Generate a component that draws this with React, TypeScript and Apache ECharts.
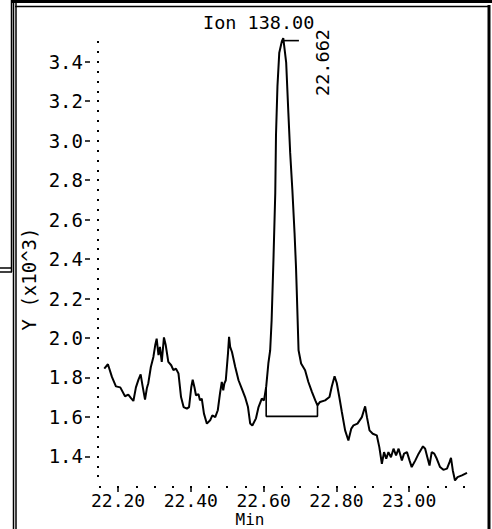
import React, { useEffect, useRef } from "react";
import * as echarts from "echarts";

const times = [
  22.162, 22.172, 22.183, 22.194, 22.206, 22.219, 22.228, 22.236, 22.242, 22.249,
  22.256, 22.262, 22.267, 22.274, 22.279, 22.283, 22.290, 22.297, 22.302, 22.306,
  22.311, 22.315, 22.320, 22.326, 22.331, 22.338, 22.346, 22.352, 22.359, 22.366,
  22.373, 22.380, 22.389, 22.395, 22.401, 22.405, 22.410, 22.414, 22.421, 22.425,
  22.430, 22.436, 22.444, 22.453, 22.459, 22.467, 22.474, 22.480, 22.485, 22.489,
  22.492, 22.496, 22.502, 22.505, 22.508, 22.513, 22.522, 22.531, 22.540, 22.549,
  22.557, 22.563, 22.569, 22.579, 22.586, 22.595, 22.601, 22.607, 22.613, 22.618,
  22.622, 22.627, 22.632, 22.634, 22.638, 22.643, 22.650, 22.654, 22.662, 22.668,
  22.673, 22.679, 22.685, 22.689, 22.691, 22.696, 22.703, 22.714, 22.723, 22.733,
  22.742, 22.748, 22.755, 22.769, 22.781, 22.787, 22.795, 22.801, 22.808, 22.815,
  22.824, 22.833, 22.841, 22.847, 22.858, 22.870, 22.879, 22.884, 22.891, 22.900,
  22.911, 22.918, 22.925, 22.931, 22.937, 22.943, 22.950, 22.957, 22.964, 22.971,
  22.980, 22.986, 22.994, 23.001, 23.007, 23.017, 23.026, 23.038, 23.044, 23.050,
  23.056, 23.062, 23.069, 23.076, 23.085, 23.094, 23.104, 23.111, 23.115, 23.120,
  23.126, 23.133, 23.145, 23.159,
];

const values = [
  1.845, 1.867, 1.803, 1.755, 1.750, 1.705, 1.713, 1.694, 1.681, 1.750,
  1.789, 1.816, 1.760, 1.688, 1.745, 1.771, 1.853, 1.904, 1.963, 1.997,
  1.913, 1.955, 1.879, 2.003, 1.963, 1.879, 1.862, 1.837, 1.845, 1.820,
  1.701, 1.650, 1.642, 1.650, 1.749, 1.789, 1.749, 1.710, 1.715, 1.684,
  1.693, 1.617, 1.566, 1.583, 1.608, 1.599, 1.634, 1.718, 1.777, 1.735,
  1.769, 1.786, 1.921, 2.006, 1.955, 1.929, 1.853, 1.786, 1.744, 1.701,
  1.650, 1.567, 1.557, 1.593, 1.650, 1.693, 1.684, 1.752, 1.871, 1.938,
  2.090, 2.395, 2.735, 3.029, 3.275, 3.446, 3.503, 3.520, 3.395, 3.141,
  2.938, 2.750, 2.532, 2.359, 2.243, 1.938, 1.871, 1.837, 1.777, 1.726,
  1.684, 1.659, 1.676, 1.684, 1.701, 1.752, 1.806, 1.772, 1.701, 1.625,
  1.532, 1.481, 1.541, 1.557, 1.566, 1.599, 1.654, 1.599, 1.532, 1.515,
  1.507, 1.447, 1.363, 1.422, 1.388, 1.422, 1.396, 1.439, 1.405, 1.439,
  1.380, 1.414, 1.422, 1.380, 1.346, 1.380, 1.414, 1.451, 1.439, 1.396,
  1.354, 1.422, 1.414, 1.388, 1.346, 1.332, 1.338, 1.371, 1.393, 1.329,
  1.278, 1.295, 1.304, 1.317,
];

// integration baseline under the peak
const baseTimes = [22.607, 22.607, 22.748, 22.748];
const baseValues = [1.752, 1.603, 1.603, 1.659];

// apex marker
const apexTimes = [22.655, 22.697];
const apexValues = [3.507, 3.507];

const xMajorTicks = [22.2, 22.4, 22.6, 22.8, 23.0];
const yMajorTicks = [1.4, 1.6, 1.8, 2.0, 2.2, 2.4, 2.6, 2.8, 3.0, 3.2, 3.4];

const titleText = "Ion 138.00";
const apexLabel = "22.662";
const xName = "Min";
const yName = "Y (x10^3)";

const X_MIN = 22.142;
const X_MAX = 23.17;
const Y_MIN = 1.24;
const Y_MAX = 3.5;

const FONT = "DejaVu Sans Mono";

function steps(from: number, to: number, step: number, digits: number) {
  const out: number[] = [];
  const n = Math.round((to - from) / step);
  for (let i = 0; i <= n; i++) out.push(Number((from + i * step).toFixed(digits)));
  return out;
}

const xDots = steps(22.15, 23.15, 0.05, 2);
const yDots = steps(1.3, 3.5, 0.05, 2);

export default function App() {
  const ref = useRef<HTMLDivElement>(null);

  useEffect(() => {
    if (!ref.current) return;
    const chart = echarts.init(ref.current, null, { renderer: "svg" });
    const black = "#000";
    const line = (x1: number, y1: number, x2: number, y2: number, w: number) => ({
      type: "line",
      shape: { x1, y1, x2, y2 },
      style: { stroke: black, lineWidth: w },
      silent: true,
    });

    chart.setOption({
      animation: false,
      backgroundColor: "#fff",
      title: {
        text: titleText,
        left: 203,
        top: 13,
        padding: 0,
        textStyle: { fontFamily: FONT, fontSize: 18.5, fontWeight: "normal", color: black },
      },
      grid: { left: 97, top: 42, right: 21, bottom: 41, containLabel: false },
      xAxis: [
        {
          type: "value",
          min: X_MIN,
          max: X_MAX,
          position: "bottom",
          axisLine: { show: false },
          splitLine: { show: false },
          axisTick: {
            show: true,
            customValues: xMajorTicks,
            length: 4,
            lineStyle: { color: black, width: 1.5 },
          },
          axisLabel: {
            customValues: xMajorTicks,
            formatter: (v: number) => v.toFixed(2),
            fontFamily: FONT,
            fontSize: 18,
            lineHeight: 15,
            color: black,
            margin: 5,
          },
        },
        {
          type: "value",
          min: X_MIN,
          max: X_MAX,
          position: "bottom",
          axisLine: { show: false },
          splitLine: { show: false },
          axisLabel: { show: false },
          axisTick: {
            show: true,
            customValues: xDots,
            inside: true,
            length: 2,
            lineStyle: { color: black, width: 2 },
          },
        },
      ],
      yAxis: [
        {
          type: "value",
          min: Y_MIN,
          max: Y_MAX,
          position: "left",
          axisLine: { show: false },
          splitLine: { show: false },
          axisTick: {
            show: true,
            customValues: yMajorTicks,
            length: 12,
            lineStyle: { color: black, width: 1.5, type: [5, 7], dashOffset: 5 },
          },
          axisLabel: {
            customValues: yMajorTicks,
            formatter: (v: number) => v.toFixed(1),
            fontFamily: FONT,
            fontSize: 19,
            color: black,
            margin: 14,
          },
        },
        {
          type: "value",
          min: Y_MIN,
          max: Y_MAX,
          position: "left",
          axisLine: { show: false },
          splitLine: { show: false },
          axisLabel: { show: false },
          axisTick: {
            show: true,
            customValues: yDots,
            inside: true,
            length: 2,
            lineStyle: { color: black, width: 2 },
          },
        },
      ],
      series: [
        {
          type: "line",
          data: times.map((t, i) => [t, values[i]]),
          symbol: "none",
          clip: false,
          lineStyle: { color: black, width: 2 },
        },
        {
          type: "line",
          data: baseTimes.map((t, i) => [t, baseValues[i]]),
          symbol: "none",
          clip: false,
          lineStyle: { color: black, width: 1.6 },
        },
        {
          type: "line",
          data: apexTimes.map((t, i) => [t, apexValues[i]]),
          symbol: "none",
          clip: false,
          lineStyle: { color: black, width: 1.6 },
        },
      ],
      graphic: [
        line(12, 1.5, 492, 1.5, 3),
        line(15, 6.5, 489, 6.5, 1.5),
        line(489, 5, 489, 529, 3),
        line(13.5, 0, 13.5, 529, 1.5),
        line(16, 0, 16, 529, 1.5),
        line(11.5, 0, 11.5, 272, 1.5),
        line(0, 268, 12, 268, 1.5),
        line(0, 272, 12, 272, 1.5),
        {
          type: "text",
          x: 322,
          y: 62.5,
          rotation: Math.PI / 2,
          style: {
            text: apexLabel,
            fontFamily: FONT,
            fontSize: 18.5,
            fill: black,
            align: "center",
            verticalAlign: "middle",
          },
        },
        {
          type: "text",
          x: 28.5,
          y: 279,
          rotation: Math.PI / 2,
          style: {
            text: yName,
            fontFamily: FONT,
            fontSize: 19,
            fill: black,
            align: "center",
            verticalAlign: "middle",
          },
        },
        {
          type: "text",
          x: 250,
          y: 519.5,
          style: {
            text: xName,
            fontFamily: FONT,
            fontSize: 16,
            lineHeight: 13,
            fill: black,
            align: "center",
            verticalAlign: "middle",
          },
        },
      ],
    });

    return () => chart.dispose();
  }, []);

  return (
    <div
      ref={ref}
      style={{ position: "fixed", left: 0, top: 0, width: 492, height: 529, background: "#fff" }}
    />
  );
}
